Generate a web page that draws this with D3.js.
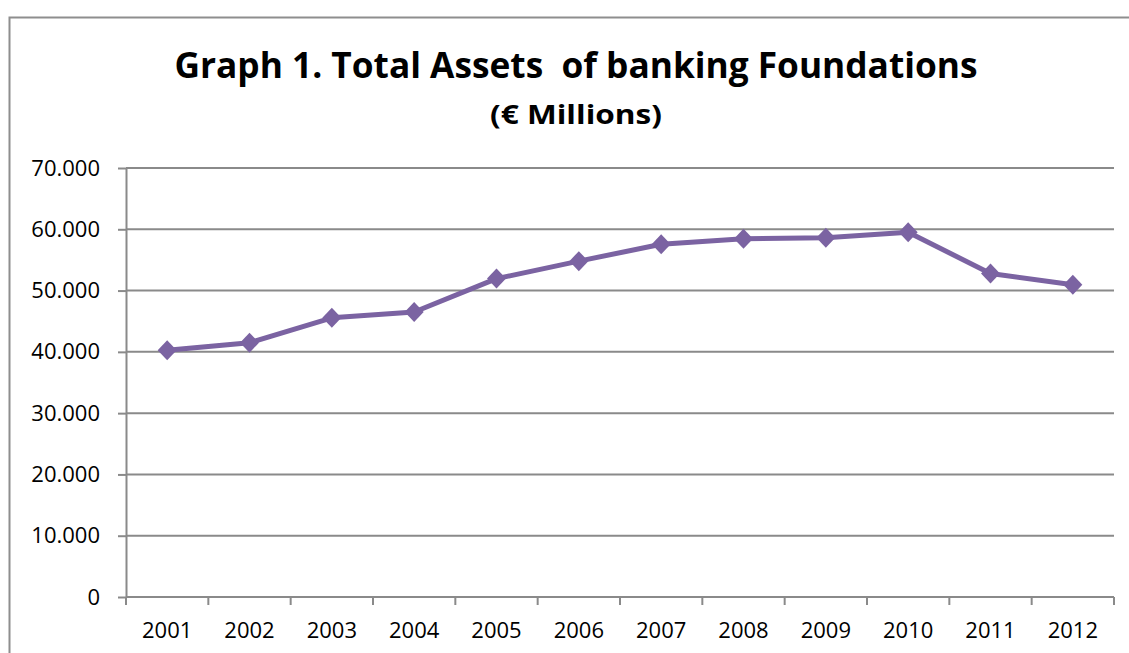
<!DOCTYPE html>
<html>
<head>
<meta charset="utf-8">
<script src="https://cdn.jsdelivr.net/npm/d3@7"></script>
<style>
  html, body { margin: 0; padding: 0; background: #fff; }
  svg { display: block; }
  text { font-family: "Open Sans", "Liberation Sans", sans-serif; fill: #000; }
</style>
</head>
<body>
<svg id="chart" width="1129" height="653"></svg>
<script>
// Total assets of banking foundations, € millions
const years = ["2001", "2002", "2003", "2004", "2005", "2006", "2007", "2008", "2009", "2010", "2011", "2012"];
const totalAssets = [40250, 41500, 45550, 46500, 51950, 54800, 57550, 58450, 58600, 59500, 52800, 50950];
const yTicks = [0, 10000, 20000, 30000, 40000, 50000, 60000, 70000];
const titleText = "Graph 1. Total Assets  of banking Foundations";
const subtitleText = "(€ Millions)";

const W = 1129, H = 653;
const margin = { left: 126, right: 15, top: 168, bottom: 56 };
const svg = d3.select("#chart");
const gridColor = "#8a8a8a";

// outer chart frame (left and top edges visible)
svg.append("path")
  .attr("d", `M9.5,${H}V17.5H${W}`)
  .attr("fill", "none")
  .attr("stroke", "#8e8e8e")
  .attr("stroke-width", 2);

// titles
svg.append("text")
  .attr("x", 576).attr("y", 78)
  .attr("text-anchor", "middle")
  .attr("font-weight", "bold")
  .attr("font-size", 35)
  .attr("textLength", 803)
  .attr("lengthAdjust", "spacingAndGlyphs")
  .style("white-space", "pre")
  .text(titleText);

svg.append("text")
  .attr("x", 576).attr("y", 124)
  .attr("text-anchor", "middle")
  .attr("font-weight", "bold")
  .attr("font-size", 27)
  .attr("textLength", 172)
  .attr("lengthAdjust", "spacingAndGlyphs")
  .text(subtitleText);

const x = d3.scaleBand()
  .domain(years)
  .range([margin.left, W - margin.right])
  .paddingInner(0).paddingOuter(0);

const y = d3.scaleLinear()
  .domain([0, 70000])
  .range([H - margin.bottom, margin.top]);

const fmt = v => d3.format(",")(v).replace(/,/g, ".");

// horizontal gridlines with outside tick stubs
const yAxis = svg.append("g")
  .attr("transform", `translate(${margin.left},0)`)
  .call(d3.axisLeft(y).tickValues(yTicks).tickFormat(fmt).tickSize(8).tickPadding(18));
yAxis.select(".domain").attr("stroke", gridColor).attr("stroke-width", 2).attr("d", `M0.5,${y(70000)}V${y(0)}`);
yAxis.selectAll(".tick line").attr("stroke", gridColor).attr("stroke-width", 2);
yAxis.selectAll(".tick text")
  .attr("font-size", 22)
  .attr("font-family", "Open Sans, sans-serif")
  .attr("fill", "#000");

svg.append("g")
  .selectAll("line")
  .data(yTicks.filter(d => d > 0))
  .join("line")
  .attr("x1", margin.left).attr("x2", W - margin.right)
  .attr("y1", d => y(d)).attr("y2", d => y(d))
  .attr("stroke", gridColor)
  .attr("stroke-width", 2);

// category axis: ticks at band boundaries, labels centred in bands
const xAxisG = svg.append("g").attr("transform", `translate(0,${y(0)})`);
xAxisG.append("line")
  .attr("x1", margin.left).attr("x2", W - margin.right)
  .attr("stroke", gridColor).attr("stroke-width", 2);
const bounds = years.map(d => x(d)).concat([x(years[years.length - 1]) + x.bandwidth()]);
xAxisG.selectAll("line.tk")
  .data(bounds)
  .join("line")
  .attr("class", "tk")
  .attr("x1", d => d).attr("x2", d => d)
  .attr("y1", 0).attr("y2", 8)
  .attr("stroke", gridColor).attr("stroke-width", 2);
xAxisG.selectAll("text")
  .data(years)
  .join("text")
  .attr("x", d => x(d) + x.bandwidth() / 2)
  .attr("y", 41)
  .attr("text-anchor", "middle")
  .attr("font-size", 22)
  .text(d => d);

// series line and diamond markers
const pts = years.map((d, i) => ({ year: d, value: totalAssets[i] }));
const cx = d => x(d.year) + x.bandwidth() / 2;
const purple = "#7b63a2";

svg.append("path")
  .datum(pts)
  .attr("fill", "none")
  .attr("stroke", purple)
  .attr("stroke-width", 5)
  .attr("stroke-linejoin", "round")
  .attr("d", d3.line().x(cx).y(d => y(d.value)));

svg.append("g")
  .selectAll("path")
  .data(pts)
  .join("path")
  .attr("d", "M0,-10L9.5,0L0,10L-9.5,0Z")
  .attr("transform", d => `translate(${cx(d)},${y(d.value)})`)
  .attr("fill", purple);
</script>
</body>
</html>
